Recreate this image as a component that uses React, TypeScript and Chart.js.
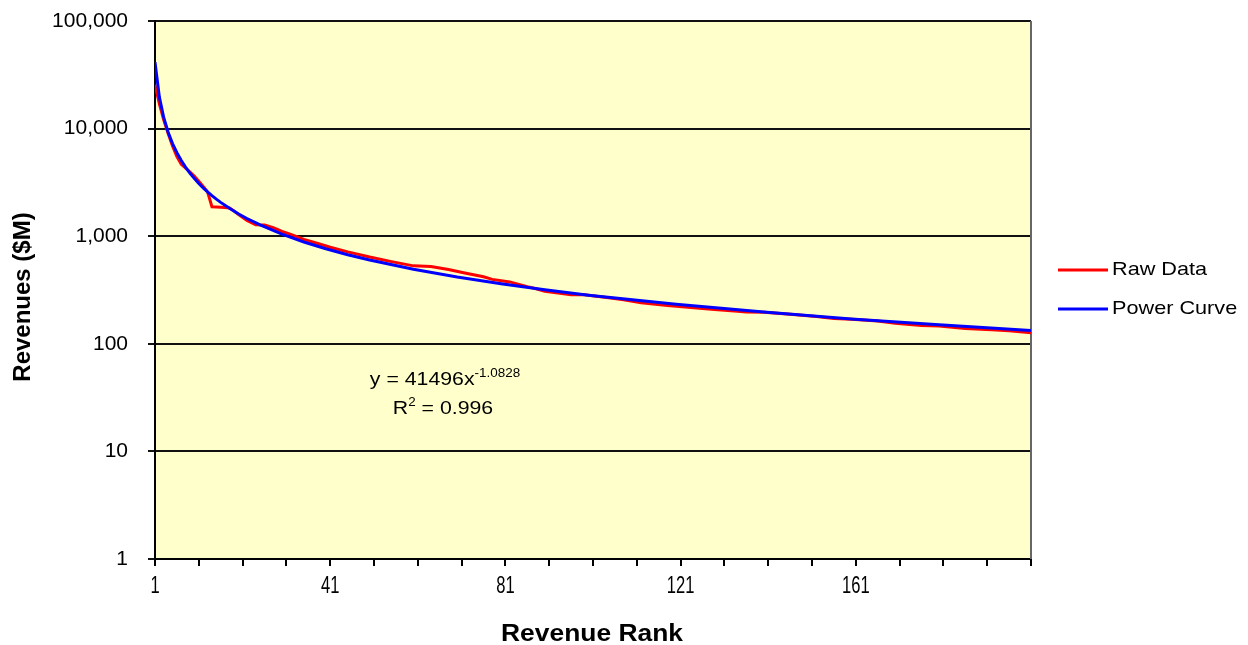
import React, { useEffect, useRef } from "react";
import { Chart, registerables } from "chart.js";

Chart.register(...registerables);

// Revenue rank (x) and revenue in $M (y) for the raw data series
const RAW_RANKS = [
  1, 2, 3, 4, 5, 6, 7, 8, 9, 10, 11, 12, 13, 14, 15, 16, 17, 18, 19, 20,
  22, 24, 26, 28, 30, 32, 35, 38, 41, 45, 50, 55, 60, 64, 68, 72, 76, 78,
  82, 86, 88, 90, 96, 99, 105, 108, 112, 118, 124, 128, 134, 136, 140, 146,
  152, 156, 160, 166, 170, 176, 180, 186, 192, 196, 201,
];
const RAW_REVENUES = [
  25500, 17000, 12000, 9000, 6900, 5500, 4650, 4300, 3950, 3600, 3250, 2900,
  2580, 1880, 1870, 1860, 1850, 1830, 1720, 1600,
  1400, 1280, 1270, 1200, 1110, 1040, 935, 860, 790, 715, 640, 580, 530, 522,
  490, 453, 420, 397, 376, 340, 325, 308, 286, 285, 267, 256, 241, 227, 216,
  209, 201, 198, 196, 188, 179, 172, 169, 163, 155, 148, 146, 139, 135, 132,
  127,
];

// Power curve (trendline y = 41496 x^-1.0828) values read at these ranks
const POWER_RANKS = [
  1, 2, 3, 4, 5, 6, 7, 8, 9, 10, 11, 12, 13, 14, 15, 16, 18, 20, 22, 25, 30,
  35, 40, 45, 50, 60, 70, 80, 90, 100, 120, 140, 160, 180, 201,
];
const POWER_REVENUES = [
  41496, 19590, 12627, 9249, 7262, 5963, 5046, 4366, 3844, 3430, 3093, 2815,
  2582, 2382, 2211, 2062, 1815, 1618, 1461, 1272, 1044, 883, 764, 673, 600,
  493, 417, 361, 318, 283, 233, 197, 170, 150, 133,
];

const X_TICKS = [1, 11, 21, 31, 41, 51, 61, 71, 81, 91, 101, 111, 121, 131, 141, 151, 161, 171, 181, 191, 201];
const X_LABELS = [1, 41, 81, 121, 161];
const Y_TICKS = [1, 10, 100, 1000, 10000, 100000];

const SERIES_NAMES = ["Raw Data", "Power Curve"];
const SERIES_COLORS = ["#FF0000", "#0000FF"];
const X_TITLE = "Revenue Rank";
const Y_TITLE = "Revenues ($M)";
const EQ_MAIN = "y = 41496x";
const EQ_EXP = "-1.0828";
const R2_TEXT = " = 0.996";

const FONT = '"Liberation Sans", Arial, Helvetica, sans-serif';

type Part = { t: string; size: number; dy: number };

function drawParts(ctx: CanvasRenderingContext2D, parts: Part[], cx: number, baseline: number, sx: number) {
  let total = 0;
  const widths = parts.map((p) => {
    ctx.font = `${p.size}px ${FONT}`;
    const w = ctx.measureText(p.t).width;
    total += w;
    return w;
  });
  ctx.save();
  ctx.translate(cx, baseline);
  ctx.scale(sx, 1);
  let x = -total / 2;
  ctx.textBaseline = "alphabetic";
  ctx.textAlign = "left";
  parts.forEach((p, i) => {
    ctx.font = `${p.size}px ${FONT}`;
    ctx.fillText(p.t, x, p.dy);
    x += widths[i];
  });
  ctx.restore();
}

const decorPlugin = {
  id: "decor",
  beforeDraw(chart: any) {
    const { ctx, chartArea: a } = chart;
    ctx.save();
    ctx.fillStyle = "#FFFFCC";
    ctx.fillRect(a.left, a.top, a.right - a.left, a.bottom - a.top);
    ctx.restore();
  },
  beforeDatasetsDraw(chart: any) {
    const { ctx, chartArea: a } = chart;
    ctx.save();
    ctx.strokeStyle = "#666";
    ctx.lineWidth = 2;
    ctx.beginPath();
    ctx.moveTo(a.right, a.top);
    ctx.lineTo(a.right, a.bottom);
    ctx.stroke();
    ctx.restore();
  },
  afterDraw(chart: any) {
    const { ctx, chartArea: a } = chart;
    const xs = chart.scales.x;
    ctx.save();
    ctx.fillStyle = "#000";

    // x tick labels (condensed, as in the reference)
    X_LABELS.forEach((v) => {
      const px = xs.getPixelForValue(v);
      ctx.save();
      ctx.translate(px, a.bottom + 28);
      ctx.scale(0.72, 1);
      ctx.font = `23px ${FONT}`;
      ctx.textAlign = "center";
      ctx.textBaseline = "middle";
      ctx.fillText(String(v), 0, 0);
      ctx.restore();
    });

    // axis titles
    ctx.font = `bold 24px ${FONT}`;
    ctx.textAlign = "center";
    ctx.textBaseline = "middle";
    ctx.save();
    ctx.translate(592, 634);
    ctx.scale(1.1, 1);
    ctx.fillText(X_TITLE, 0, 0);
    ctx.restore();
    ctx.save();
    ctx.translate(23, 297);
    ctx.rotate(-Math.PI / 2);
    ctx.fillText(Y_TITLE, 0, 0);
    ctx.restore();

    // equation annotation
    drawParts(ctx, [
      { t: EQ_MAIN, size: 19, dy: 0 },
      { t: EQ_EXP, size: 12, dy: -8 },
    ], 445, 385, 1.12);
    drawParts(ctx, [
      { t: "R", size: 19, dy: 0 },
      { t: "2", size: 12, dy: -8 },
      { t: R2_TEXT, size: 19, dy: 0 },
    ], 443, 414, 1.12);

    // legend
    const rows = [270, 309];
    SERIES_NAMES.forEach((name, i) => {
      const y = rows[i];
      ctx.strokeStyle = SERIES_COLORS[i];
      ctx.lineWidth = 3;
      ctx.beginPath();
      ctx.moveTo(1058, y);
      ctx.lineTo(1108, y);
      ctx.stroke();
      ctx.save();
      ctx.translate(1112, y);
      ctx.scale(1.14, 1);
      ctx.font = `19px ${FONT}`;
      ctx.textAlign = "left";
      ctx.textBaseline = "middle";
      ctx.fillStyle = "#000";
      ctx.fillText(name, 0, 0);
      ctx.restore();
    });
    ctx.restore();
  },
};

export default function App() {
  const ref = useRef<HTMLCanvasElement | null>(null);
  useEffect(() => {
    if (!ref.current) return;
    const raw = RAW_RANKS.map((r, i) => ({ x: r, y: RAW_REVENUES[i] }));
    const power = POWER_RANKS.map((r, i) => ({ x: r, y: POWER_REVENUES[i] }));
    const chart = new Chart(ref.current, {
      type: "line",
      data: {
        datasets: [
          {
            label: SERIES_NAMES[0],
            data: raw,
            borderColor: SERIES_COLORS[0],
            backgroundColor: SERIES_COLORS[0],
            borderWidth: 3,
            pointRadius: 0,
            tension: 0,
            fill: false,
            order: 1,
          },
          {
            label: SERIES_NAMES[1],
            data: power,
            borderColor: SERIES_COLORS[1],
            backgroundColor: SERIES_COLORS[1],
            borderWidth: 3,
            pointRadius: 0,
            tension: 0,
            fill: false,
            order: 0,
          },
        ],
      },
      options: {
        responsive: false,
        animation: false,
        devicePixelRatio: 1,
        layout: { padding: { top: 21, right: 217, left: 0, bottom: 0 } },
        plugins: { legend: { display: false }, tooltip: { enabled: false } },
        scales: {
          x: {
            type: "linear",
            min: 1,
            max: 201,
            afterBuildTicks: (s: any) => {
              s.ticks = X_TICKS.map((v) => ({ value: v }));
            },
            afterFit: (s: any) => {
              s.height = 86;
              s.paddingLeft = 0;
              s.paddingRight = 0;
            },
            grid: {
              drawOnChartArea: false,
              drawTicks: true,
              tickLength: 7,
              color: "#000",
              lineWidth: 2,
            },
            border: { display: true, color: "#000", width: 2 },
            ticks: {
              autoSkip: false,
              maxRotation: 0,
              minRotation: 0,
              padding: 10,
              color: "#000",
              font: { family: FONT, size: 20 },
              callback: () => "",
            },
          },
          y: {
            type: "logarithmic",
            min: 1,
            max: 100000,
            afterBuildTicks: (s: any) => {
              s.ticks = Y_TICKS.map((v) => ({ value: v }));
            },
            afterFit: (s: any) => {
              s.width = 155;
              s.paddingTop = 0;
              s.paddingBottom = 0;
            },
            grid: {
              color: "#111",
              lineWidth: 2,
              tickLength: 7,
              drawTicks: true,
            },
            border: { display: true, color: "#000", width: 2 },
            ticks: {
              padding: 20,
              color: "#000",
              font: { family: FONT, size: 21 },
              callback: (v: any) => Number(v).toLocaleString("en-US"),
            },
          },
        },
      },
      plugins: [decorPlugin],
    } as any);
    return () => chart.destroy();
  }, []);
  return (
    <div style={{ position: "absolute", left: 0, top: 0, width: 1248, height: 645, background: "#fff" }}>
      <canvas ref={ref} width={1248} height={645} style={{ display: "block" }} />
    </div>
  );
}
